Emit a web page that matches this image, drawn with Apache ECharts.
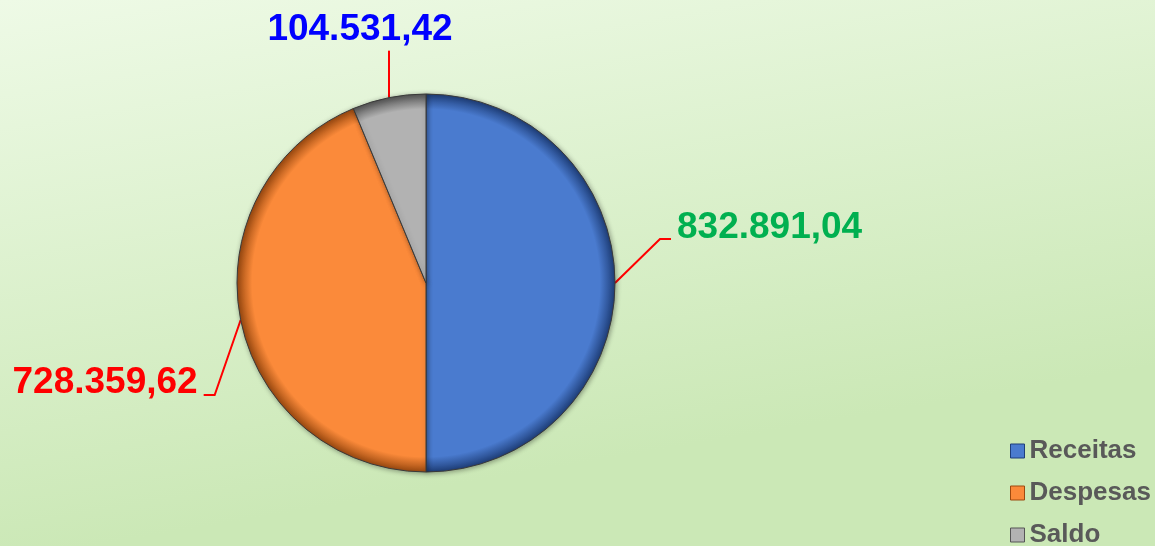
<!DOCTYPE html>
<html>
<head>
<meta charset="utf-8">
<script src="https://cdn.jsdelivr.net/npm/echarts@6/dist/echarts.min.js"></script>
<style>
  html, body { margin: 0; padding: 0; }
  #chart { width: 1155px; height: 546px; }
</style>
</head>
<body>
<div id="chart"></div>
<script>
// dados
var categorias = ['Receitas', 'Despesas', 'Saldo'];
var valores = [832891.04, 728359.62, 104531.42];
var coresFatia = ['#4a7bcf', '#fb8a3a', '#b2b2b2'];
var coresBorda = ['#1f3f7a', '#9c4a10', '#555555'];
var coresRotulo = ['#00b050', '#ff0000', '#0000ff'];

var centro = [426, 283];
var raio = 189;

// formata no padrão brasileiro: 832.891,04
function formataBR(v) {
    var partes = v.toFixed(2).split('.');
    var inteiro = partes[0].replace(/\B(?=(\d{3})+(?!\d))/g, '.');
    return inteiro + ',' + partes[1];
}

var chart = echarts.init(document.getElementById('chart'));

var dados = categorias.map(function (nome, i) {
    return {
        name: nome,
        value: valores[i],
        itemStyle: {
            color: new echarts.graphic.RadialGradient(centro[0], centro[1], raio, [
                { offset: 0, color: coresFatia[i] },
                { offset: 0.92, color: coresFatia[i] },
                { offset: 1, color: coresBorda[i] }
            ], true)
        },
        label: { color: coresRotulo[i] }
    };
});

var itensLegenda = categorias.map(function (nome, i) {
    return {
        name: nome,
        itemStyle: { color: coresFatia[i], borderColor: coresBorda[i], borderWidth: 1 }
    };
});

var option = {
    backgroundColor: new echarts.graphic.LinearGradient(0, 0, 0.08, 1, [
        { offset: 0, color: '#eefae6' },
        { offset: 1, color: '#cbe8b6' }
    ]),
    color: coresFatia,
    legend: {
        orient: 'vertical',
        left: 1010,
        top: 438,
        height: 160,
        padding: 0,
        itemWidth: 14,
        itemHeight: 14,
        itemGap: 16,
        icon: 'rect',
        data: itensLegenda,
        textStyle: {
            fontFamily: 'Liberation Sans, Arial, sans-serif',
            fontWeight: 'bold',
            fontSize: 26,
            color: '#595959'
        }
    },
    series: [{
        type: 'pie',
        center: centro,
        radius: raio,
        startAngle: 90,
        clockwise: true,
        animation: false,
        data: dados,
        itemStyle: {
            borderColor: '#3a3a3a',
            borderWidth: 1,
            shadowBlur: 5,
            shadowOffsetX: 1,
            shadowOffsetY: 1,
            shadowColor: 'rgba(0,0,0,0.35)'
        },
        label: {
            show: true,
            position: 'outside',
            formatter: function (p) { return formataBR(p.value); },
            fontFamily: 'Liberation Sans, Arial, sans-serif',
            fontWeight: 'bold',
            fontSize: 37
        },
        labelLine: {
            show: true,
            length: 30,
            length2: 10,
            lineStyle: { color: '#ff0000', width: 2 }
        },
        labelLayout: function (p) {
            var a = p.labelLinePoints && p.labelLinePoints[0];
            if (!a) return;
            if (p.dataIndex === 0) {
                return {
                    x: a[0] + 62, y: a[1] - 55, align: 'left', verticalAlign: 'middle',
                    labelLinePoints: [a, [a[0] + 45, a[1] - 44], [a[0] + 56, a[1] - 44]]
                };
            }
            if (p.dataIndex === 1) {
                return {
                    x: a[0] - 43, y: a[1] + 63, align: 'right', verticalAlign: 'middle',
                    labelLinePoints: [a, [a[0] - 26, a[1] + 75], [a[0] - 37, a[1] + 75]]
                };
            }
            return {
                x: a[0] - 29, y: a[1] - 68, align: 'center', verticalAlign: 'middle',
                labelLinePoints: [a, [a[0], a[1] - 47], [a[0], a[1] - 47]]
            };
        }
    }]
};

chart.setOption(option);
</script>
</body>
</html>
